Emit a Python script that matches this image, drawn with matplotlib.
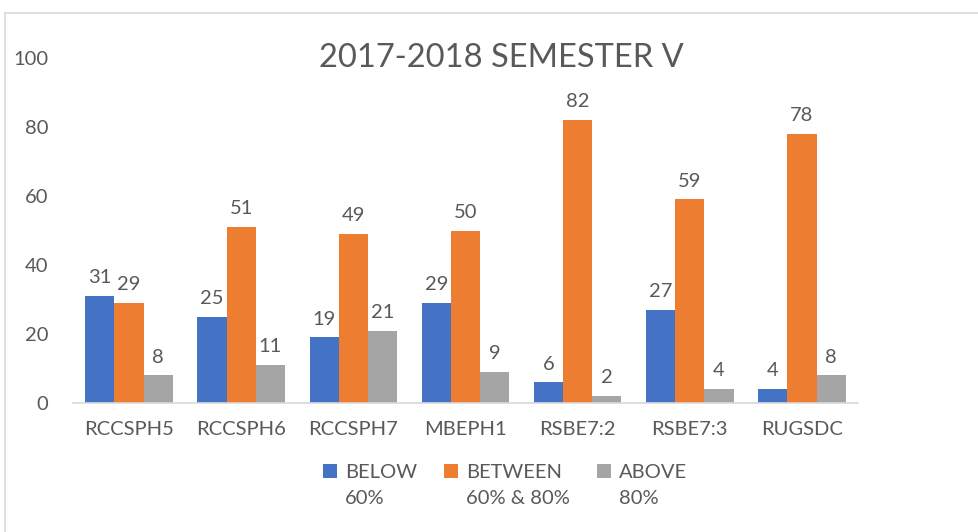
import matplotlib.pyplot as plt
from matplotlib.lines import Line2D
import numpy as np

plt.rcParams['font.family'] = ['Lato', 'DejaVu Sans']

categories = ['RCCSPH5', 'RCCSPH6', 'RCCSPH7', 'MBEPH1', 'RSBE7:2', 'RSBE7:3', 'RUGSDC']
below = [31, 25, 19, 29, 6, 27, 4]
between = [29, 51, 49, 50, 82, 59, 78]
above = [8, 11, 21, 9, 2, 4, 8]
series_names = ['BELOW\n60%', 'BETWEEN\n60% & 80%', 'ABOVE\n80%']
colors = ['#4472C4', '#ED7D31', '#A5A5A5']
text_col = '#595959'

W, H = 979, 532
fig = plt.figure(figsize=(W / 100, H / 100), dpi=100)
ax = fig.add_axes([73 / W, 1 - 403 / H, (858 - 73) / W, (403 - 58) / H])

x = np.arange(len(categories))
w = 0.26
for i, vals in enumerate([below, between, above]):
    bars = ax.bar(x + (i - 1) * w, vals, w, color=colors[i], label=series_names[i])
    for b, v in zip(bars, vals):
        ax.annotate(str(v), (b.get_x() + b.get_width() / 2, v), xytext=(0, 7),
                    textcoords='offset points', ha='center', va='bottom',
                    fontsize=14.5, color=text_col)

ax.set_xlim(-0.5, len(categories) - 0.5)
ax.set_ylim(0, 100)
ax.set_yticks([0, 20, 40, 60, 80, 100])
ax.set_xticks(x)
ax.set_xticklabels(categories)
ax.tick_params(axis='both', length=0, labelsize=14.5, labelcolor=text_col)
ax.tick_params(axis='y', pad=18)
ax.tick_params(axis='x', pad=13)
for s in ['top', 'right', 'left']:
    ax.spines[s].set_visible(False)
ax.spines['bottom'].set_color('#d9d9d9')
ax.spines['bottom'].set_linewidth(1.2)

fig.text(501 / W, 1 - 58 / H, '2017-2018 SEMESTER V', ha='center', va='center',
         fontsize=23.5, color=text_col)

# chart frame (top and left edges visible)
fig.add_artist(Line2D([5 / W, 5 / W], [0, 1 - 13 / H], color='#d9d9d9', lw=1.2))
fig.add_artist(Line2D([5 / W, 1], [1 - 13 / H, 1 - 13 / H], color='#d9d9d9', lw=1.2))

leg = fig.legend(loc='upper center', bbox_to_anchor=(505 / W, 1 - 446 / H), ncol=3,
                 frameon=False, fontsize=14.5, handlelength=0.7, handleheight=0.7,
                 columnspacing=1.35, handletextpad=0.4)
for t in leg.get_texts():
    t.set_color(text_col)
    t.set_linespacing(1.6)
# square next to the first line of each label
for col in leg._legend_handle_box.get_children():
    for item in col.get_children():
        item.align = 'top'

fig.savefig('out.png', dpi=100)
